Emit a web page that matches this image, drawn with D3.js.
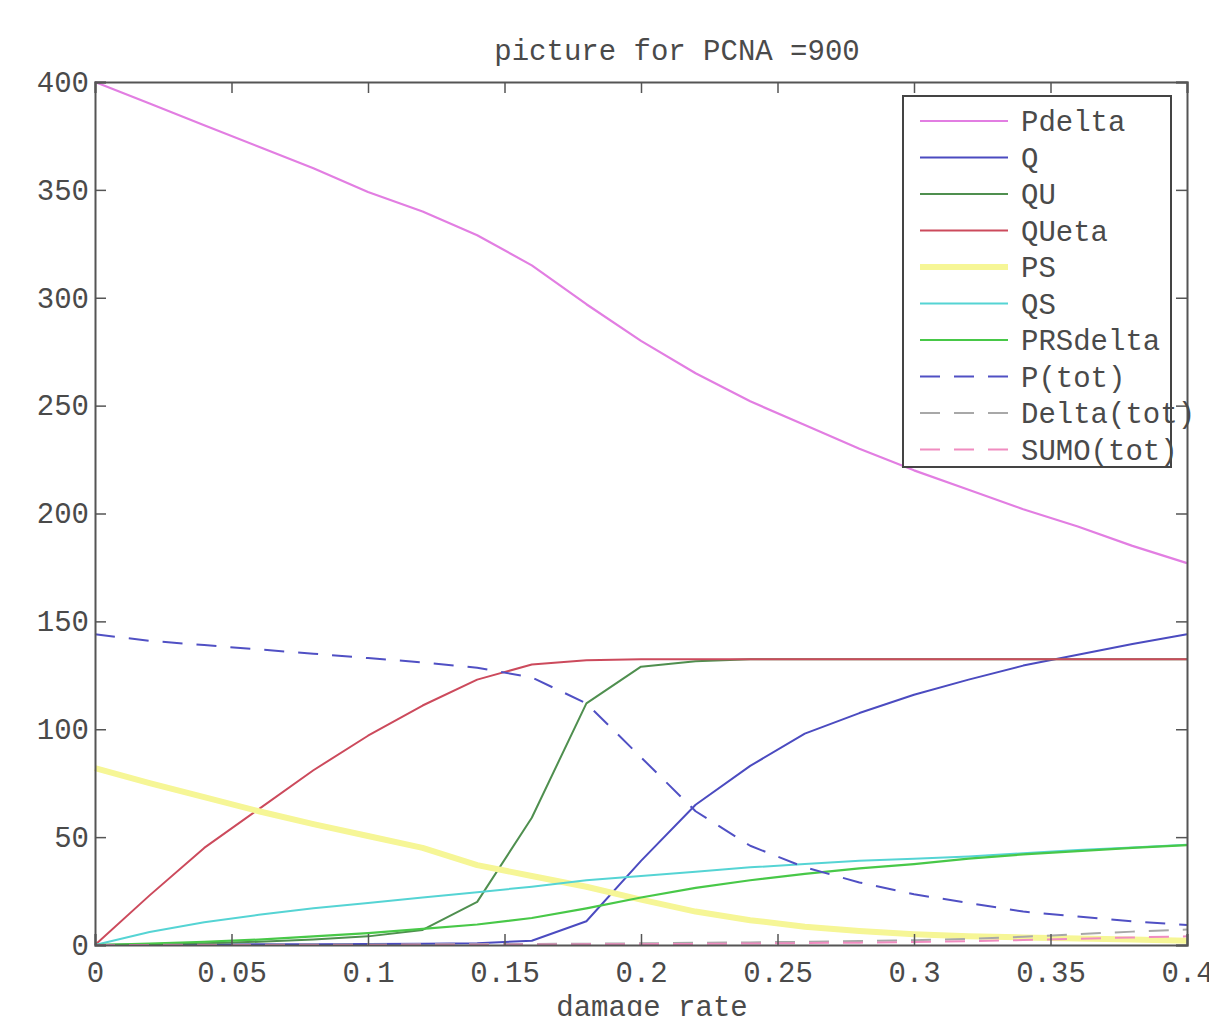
<!DOCTYPE html>
<html>
<head>
<meta charset="utf-8">
<script src="https://d3js.org/d3.v7.min.js"></script>
<style>
  body { margin: 0; background: #fff; }
  text { font-family: "Liberation Mono", "DejaVu Sans Mono", monospace; fill: #4a4a4a; }
</style>
</head>
<body>
<svg width="1209" height="1016"></svg>
<script>
// damage rate values (x)
var damageRate = [0, 0.02, 0.04, 0.06, 0.08, 0.1, 0.12, 0.14, 0.16, 0.18, 0.2,
                  0.22, 0.24, 0.26, 0.28, 0.3, 0.32, 0.34, 0.36, 0.38, 0.4];

var Pdelta   = [400, 390, 380, 370, 360, 349, 340, 329, 315, 297, 280, 265, 252, 241, 230, 220, 211, 202, 194, 185, 177];
var Q        = [0, 0.1, 0.2, 0.3, 0.4, 0.5, 0.6, 0.8, 2, 11, 39, 65, 83, 98, 107.5, 116, 123, 129.5, 134.5, 139.5, 144];
var QU       = [0, 0.3, 0.8, 1.5, 2.5, 4, 7, 20, 59, 112, 129, 131.5, 132.5, 132.5, 132.5, 132.5, 132.5, 132.5, 132.5, 132.5, 132.5];
var QUeta    = [0, 23, 45, 63, 81, 97, 111, 123, 130, 132, 132.5, 132.5, 132.5, 132.5, 132.5, 132.5, 132.5, 132.5, 132.5, 132.5, 132.5];
var PS       = [82, 75, 68.5, 62, 56, 50.5, 45, 37, 32, 27, 21, 15.5, 11.5, 8.5, 6.5, 5, 4, 3.5, 3, 2.5, 2];
var QS       = [0, 6, 10.5, 14, 17, 19.5, 22, 24.5, 27, 30, 32, 34, 36, 37.5, 39, 40, 41, 42.5, 44, 45.2, 46.5];
var PRSdelta = [0, 0.7, 1.5, 2.5, 4, 5.5, 7.5, 9.5, 12.5, 17, 22, 26.5, 30, 33, 35.5, 37.5, 40, 42, 43.5, 45, 46.3];
var Ptot     = [144, 141, 139, 137, 135, 133, 131, 128.5, 124, 112, 87, 62, 46, 36, 29, 23.5, 19.5, 15.5, 13.2, 11, 9.3];
var DeltaTot = [0, 0.05, 0.1, 0.15, 0.2, 0.25, 0.3, 0.4, 0.5, 0.6, 0.8, 1, 1.2, 1.5, 1.8, 2.2, 2.8, 3.8, 5, 6.2, 7.2];
var SumoTot  = [0, 0, 0, 0, 0, 0, 0.1, 0.1, 0.2, 0.3, 0.4, 0.5, 0.7, 0.9, 1.1, 1.4, 1.8, 2.3, 2.9, 3.5, 4];

var seriesNames = ["Pdelta", "Q", "QU", "QUeta", "PS", "QS", "PRSdelta", "P(tot)", "Delta(tot)", "SUMO(tot)"];
var seriesValues = [Pdelta, Q, QU, QUeta, PS, QS, PRSdelta, Ptot, DeltaTot, SumoTot];

var xTicks = [0, 0.05, 0.1, 0.15, 0.2, 0.25, 0.3, 0.35, 0.4];
var yTicks = [0, 50, 100, 150, 200, 250, 300, 350, 400];

var titleText = "picture for PCNA =900";
var xLabelText = "damage rate";

// styles per series
var colors = ["#e27ee2", "#4b4bc0", "#4f8f4f", "#cc4a5c", "#f6f696", "#55d4d4", "#48c848", "#5050c4", "#a8a8a8", "#f08cc0"];
var widths = [2.2, 2, 2, 2, 6, 2, 2.2, 2, 2, 2];
var dashes = [null, null, null, null, null, null, null, "20,14", "20,14", "20,14"];

var svg = d3.select("svg"),
    margin = {left: 95, top: 82, right: 22, bottom: 71},
    width = +svg.attr("width") - margin.left - margin.right,
    height = +svg.attr("height") - margin.top - margin.bottom;

var xScale = d3.scaleLinear().domain([0, 0.4]).range([0, width]),
    yScale = d3.scaleLinear().domain([0, 400]).range([height, 0]);

var g = svg.append("g")
    .attr("transform", "translate(" + margin.left + "," + margin.top + ")");

var fontSize = 29;
var tickLen = 11;
var axisColor = "#555";

// lines
var line = d3.line()
    .x(function(d, i) { return xScale(damageRate[i]); })
    .y(function(d) { return yScale(d); });

seriesValues.forEach(function(vals, k) {
    g.append("path")
     .datum(vals)
     .attr("fill", "none")
     .attr("stroke", colors[k])
     .attr("stroke-width", widths[k])
     .attr("stroke-dasharray", dashes[k])
     .attr("stroke-linejoin", "round")
     .attr("d", line);
});

// axes, matlab style: ticks inside on all four sides
var xAxisBottom = g.append("g")
    .attr("transform", "translate(0," + height + ")")
    .call(d3.axisBottom(xScale).tickValues(xTicks).tickSize(-tickLen).tickPadding(16)
          .tickFormat(function(d) { return d3.format("~g")(d); }));
var xAxisTop = g.append("g")
    .call(d3.axisTop(xScale).tickValues(xTicks).tickSize(-tickLen).tickFormat(""));
var yAxisLeft = g.append("g")
    .call(d3.axisLeft(yScale).tickValues(yTicks).tickSize(-tickLen).tickPadding(6));
var yAxisRight = g.append("g")
    .attr("transform", "translate(" + width + ",0)")
    .call(d3.axisRight(yScale).tickValues(yTicks).tickSize(-tickLen).tickFormat(""));

[xAxisBottom, xAxisTop, yAxisLeft, yAxisRight].forEach(function(ax) {
    ax.select(".domain").attr("stroke", axisColor).attr("stroke-width", 2);
    ax.selectAll(".tick line").attr("stroke", axisColor).attr("stroke-width", 1.5);
    ax.selectAll("text")
      .style("font-family", "'Liberation Mono', 'DejaVu Sans Mono', monospace")
      .style("font-size", fontSize + "px")
      .attr("fill", "#4a4a4a");
});
xAxisBottom.selectAll("text").attr("dy", "0.71em");

// title and x label
svg.append("text")
   .attr("x", 677)
   .attr("y", 60)
   .attr("text-anchor", "middle")
   .style("font-size", fontSize + "px")
   .text(titleText);

svg.append("text")
   .attr("x", 652)
   .attr("y", 1016)
   .attr("text-anchor", "middle")
   .style("font-size", fontSize + "px")
   .text(xLabelText);

// legend
var legend = svg.append("g").attr("transform", "translate(903,96)");
legend.append("rect")
   .attr("width", 268)
   .attr("height", 371)
   .attr("fill", "#fff")
   .attr("stroke", "#444")
   .attr("stroke-width", 2);

var rowStep = 36.5;
seriesNames.forEach(function(name, k) {
    var y = 25 + k * rowStep;
    legend.append("line")
       .attr("x1", 17).attr("x2", 105)
       .attr("y1", y).attr("y2", y)
       .attr("stroke", colors[k])
       .attr("stroke-width", widths[k])
       .attr("stroke-dasharray", dashes[k]);
    legend.append("text")
       .attr("x", 118)
       .attr("y", y)
       .attr("dy", "0.35em")
       .style("font-size", fontSize + "px")
       .text(name);
});
</script>
</body>
</html>
